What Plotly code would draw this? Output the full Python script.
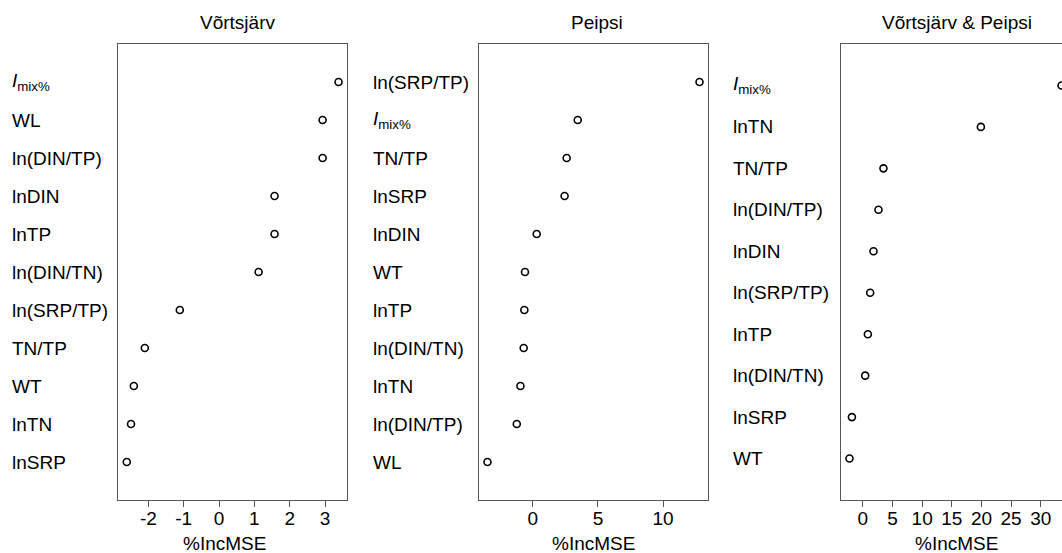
import plotly.graph_objects as go

# ---------------- data (listed top to bottom as in the chart) ----------------
IMIX = "<i>I</i><sub>mix%</sub>"

v_labels = [IMIX, "WL", "ln(DIN/TP)", "lnDIN", "lnTP", "ln(DIN/TN)",
            "ln(SRP/TP)", "TN/TP", "WT", "lnTN", "lnSRP"]
v_values = [3.38, 2.93, 2.93, 1.57, 1.57, 1.12, -1.11, -2.10, -2.41, -2.49, -2.61]

p_labels = ["ln(SRP/TP)", IMIX, "TN/TP", "lnSRP", "lnDIN", "WT", "lnTP",
            "ln(DIN/TN)", "lnTN", "ln(DIN/TP)", "WL"]
p_values = [12.8, 3.45, 2.60, 2.44, 0.30, -0.60, -0.65, -0.70, -0.95, -1.23, -3.48]

b_labels = [IMIX, "lnTN", "TN/TP", "ln(DIN/TP)", "lnDIN", "ln(SRP/TP)",
            "lnTP", "ln(DIN/TN)", "lnSRP", "WT"]
b_values = [33.5, 19.9, 3.47, 2.63, 1.79, 1.23, 0.84, 0.39, -1.85, -2.26]

titles = ["Võrtsjärv", "Peipsi", "Võrtsjärv &amp; Peipsi"]
xlabel = "%IncMSE"

v_ticks = [-2, -1, 0, 1, 2, 3]
p_ticks = [0, 5, 10]
b_ticks = [0, 5, 10, 15, 20, 25, 30]

# ---------------- layout geometry (pixels) ----------------
W, H = 1062, 553
TOP, BOTTOM = 44, 500
panels_px = [(118.3, 347.0), (479.0, 708.0), (841.0, 1070.0)]  # last one cropped by page edge
label_x_px = [10, 371, 731]
title_x_px = [237.3, 597, 956.5]
xlab_x_px = [224.7, 593.8, 956.7]

FONT = "Liberation Sans, Arial, Helvetica, sans-serif"
FS = 19
LINE = "#555555"

def rrange(vals):
    lo, hi = min(vals), max(vals)
    s = hi - lo
    return lo - 0.04 * s, hi + 0.04 * s

fig = go.Figure()
datasets = [(v_labels, v_values, v_ticks), (p_labels, p_values, p_ticks),
            (b_labels, b_values, b_ticks)]
annotations = []
for i, (labs, vals, ticks) in enumerate(datasets):
    n = len(labs)
    ys = [n - k for k in range(n)]
    sfx = "" if i == 0 else str(i + 1)
    fig.add_trace(go.Scatter(
        x=vals, y=ys, mode="markers", xaxis="x" + sfx, yaxis="y" + sfx,
        marker=dict(symbol="circle-open", size=7, color="black",
                    line=dict(width=1.6, color="black")),
        showlegend=False, hoverinfo="skip"))
    lo, hi = rrange(vals)
    x0, x1 = panels_px[i]
    if x1 > W:  # crop the last panel at the page edge
        hi = lo + (hi - lo) * (W - x0) / (x1 - x0)
        x1 = W
    dom = [x0 / W, x1 / W]
    fig.layout["xaxis" + sfx] = dict(
        domain=dom, range=[lo, hi], anchor="y" + sfx,
        tickmode="array", tickvals=ticks, ticktext=[str(t) for t in ticks],
        ticks="outside", ticklen=6, tickcolor=LINE, tickwidth=1,
        ticklabelstandoff=-5,
        showline=True, linecolor=LINE, linewidth=1.2, mirror=True,
        showgrid=False, zeroline=False,
        tickfont=dict(family=FONT, size=FS, color="black"),
        fixedrange=True)
    fig.layout["yaxis" + sfx] = dict(
        domain=[(H - BOTTOM) / H, (H - TOP) / H], range=[0, n + 1],
        anchor="x" + sfx, showticklabels=False, ticks="",
        showline=True, linecolor=LINE, linewidth=1.2, mirror=(i < 2),
        showgrid=False, zeroline=False, fixedrange=True)
    for lab, y in zip(labs, ys):
        annotations.append(dict(
            x=label_x_px[i] / W, xref="paper", y=y, yref="y" + sfx,
            text=lab, showarrow=False, xanchor="left", yanchor="middle",
            font=dict(family=FONT, size=FS, color="black")))
    annotations.append(dict(
        x=title_x_px[i] / W, xref="paper", y=1 - 22 / H, yref="paper",
        text=titles[i], showarrow=False, xanchor="center", yanchor="middle",
        font=dict(family=FONT, size=FS, color="black")))
    annotations.append(dict(
        x=xlab_x_px[i] / W, xref="paper", y=1 - 543 / H, yref="paper",
        text=xlabel, showarrow=False, xanchor="center", yanchor="middle",
        font=dict(family=FONT, size=FS, color="black")))

fig.update_layout(
    width=W, height=H, margin=dict(l=0, r=0, t=0, b=0),
    paper_bgcolor="white", plot_bgcolor="white",
    annotations=annotations, font=dict(family=FONT, size=FS, color="black"))

fig.write_html("out.html", config={"displayModeBar": False})
